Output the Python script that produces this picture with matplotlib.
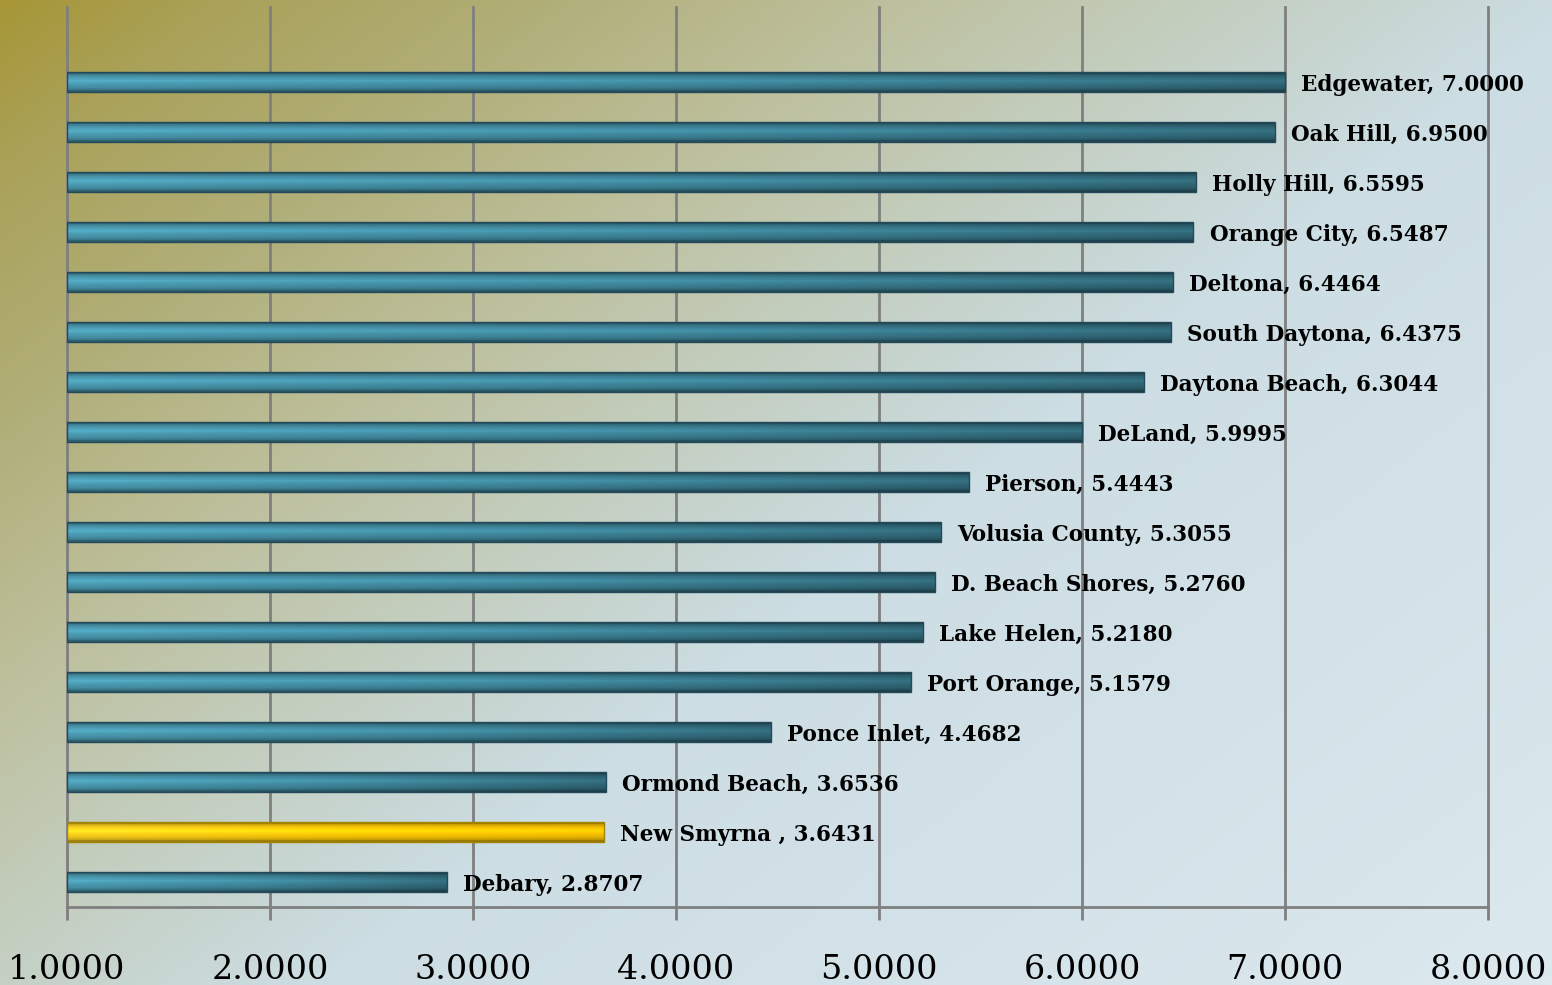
import numpy as np
import matplotlib.pyplot as plt
from matplotlib.colors import LinearSegmentedColormap, to_rgb

# データ（下から上の順）
cities = ['Debary', 'New Smyrna ', 'Ormond Beach', 'Ponce Inlet', 'Port Orange',
          'Lake Helen', 'D. Beach Shores', 'Volusia County', 'Pierson', 'DeLand',
          'Daytona Beach', 'South Daytona', 'Deltona', 'Orange City', 'Holly Hill',
          'Oak Hill', 'Edgewater']
values = [2.8707, 3.6431, 3.6536, 4.4682, 5.1579, 5.2180, 5.2760, 5.3055, 5.4443,
          5.9995, 6.3044, 6.4375, 6.4464, 6.5487, 6.5595, 6.9500, 7.0000]
highlight = 'New Smyrna '
xticks = [1, 2, 3, 4, 5, 6, 7, 8]
base = 1.0

fig = plt.figure(figsize=(15.52, 9.85), dpi=100)

# 背景のグラデーション（左上のオリーブ→右下の水色）
bg = fig.add_axes([0, 0, 1, 1], zorder=-1)
yy, xx = np.mgrid[0:1:250j, 0:1:400j]
t = 0.55 * xx + 0.45 * yy
stops = [0.0, 0.08, 0.2, 0.3, 0.42, 0.56, 1.0]
cols = np.array([to_rgb(c) for c in ['#A69636', '#AAA25A', '#B1AF7A', '#BCBE98',
                                     '#C3CDBC', '#CCDDE3', '#DCE9EF']])
img = np.stack([np.interp(t, stops, cols[:, k]) for k in range(3)], axis=-1)
bg.imshow(img, aspect='auto', extent=[0, 1, 0, 1], origin='upper')
bg.axis('off')

ax = fig.add_axes([67 / 1552, 78 / 985, 1421 / 1552, 900 / 985])
ax.patch.set_alpha(0)

y = np.arange(len(cities))
colors = ['#FFCC00' if c == highlight else '#3E8298' for c in cities]
bars = ax.barh(y, np.array(values) - base, left=base, height=0.4, color=colors,
               edgecolor='none', zorder=3)

blue = LinearSegmentedColormap.from_list('b', ['#4C9CB3', '#3F879C', '#306676'])
gold = LinearSegmentedColormap.from_list('g', ['#FFD420', '#FFCB05', '#F7C000'])
prof = np.array([0.6, 0.85, 0.97, 1.05, 1.12, 1.03, 0.97, 0.92, 0.82, 0.6])
for b, c in zip(bars, cities):
    cm = gold if c == highlight else blue
    grad = cm(np.linspace(0, 1, 200))[None, :, :3] * prof[:, None, None]
    grad = np.clip(grad, 0, 1)
    x0, y0 = b.get_x(), b.get_y()
    im = ax.imshow(grad, aspect='auto', zorder=4, origin='upper',
                   extent=[x0, x0 + b.get_width(), y0, y0 + b.get_height()])
    im.set_clip_path(b)
    ax.add_patch(plt.Rectangle((x0, y0), b.get_width(), b.get_height(), fill=False,
                               edgecolor='#A08400' if c == highlight else '#24495A',
                               lw=1.0, zorder=5))

for yi, c, v in zip(y, cities, values):
    ax.text(v + 0.08, yi, f'{c}, {v:.4f}', va='center_baseline', ha='left',
            fontsize=15.5, fontweight='bold', family='DejaVu Serif', color='black', zorder=6)

ax.set_xlim(1, 8)
ax.set_ylim(-0.5, 17.5)
ax.set_xticks(xticks)
ax.set_xticklabels([f'{t:.4f}' for t in xticks], family='DejaVu Serif', fontsize=24)
ax.set_yticks([])
ax.grid(axis='x', color='#7F7F7F', lw=2, zorder=1)
for gl in ax.get_xgridlines():
    gl.set_clip_on(False)
for s in ['top', 'right', 'left']:
    ax.spines[s].set_visible(False)
ax.spines['bottom'].set_color('#7F7F7F')
ax.spines['bottom'].set_linewidth(2)
ax.tick_params(axis='x', length=9, width=2, color='#7F7F7F', pad=25)

plt.savefig('out.png', dpi=100)
